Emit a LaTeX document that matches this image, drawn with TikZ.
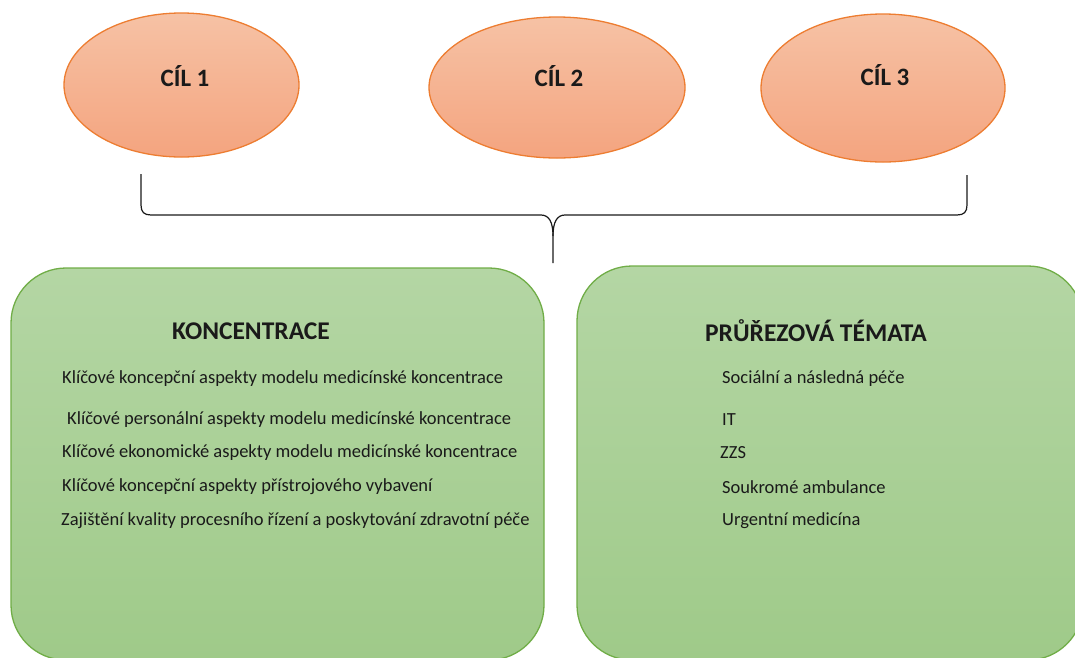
\documentclass[tikz,border=0pt]{standalone}
\usepackage{fontspec}
\setmainfont{Carlito}
\usetikzlibrary{shapes.geometric}
\definecolor{ellTop}{HTML}{F6C2A5}
\definecolor{ellBot}{HTML}{F4A47F}
\definecolor{ellLine}{HTML}{ED7D31}
\definecolor{boxTop}{HTML}{B4D6A4}
\definecolor{boxBot}{HTML}{9FCA89}
\definecolor{boxLine}{HTML}{70AD47}
\definecolor{ink}{HTML}{1A1A1A}
\begin{document}
\begin{tikzpicture}[x=1pt,y=-1pt,
  goal/.style={ellipse, draw=ellLine, line width=1.3pt, top color=ellTop, bottom color=ellBot, inner sep=0pt},
  goaltext/.style={font=\fontsize{25}{30}\selectfont\bfseries, text=ink, inner sep=0pt},
  panel/.style={rectangle, rounded corners=55pt, draw=boxLine, line width=1.3pt,
    top color=boxTop, bottom color=boxBot, inner sep=0pt},
  ptitle/.style={font=\fontsize{25.5}{30}\selectfont\bfseries, text=ink, inner sep=0pt},
  item/.style={anchor=west, font=\fontsize{18.5}{22}\selectfont, text=ink, inner sep=0pt},
  brace/.style={draw=ink, line width=1.2pt}
]
\useasboundingbox (0,0) rectangle (1075,657);
\clip (0,0) rectangle (1075,657);

% goals
\node[goal, minimum width=235pt, minimum height=144pt] (c1) at (181.5,85) {};
\node[goal, minimum width=256pt, minimum height=141pt] (c2) at (557,87.5) {};
\node[goal, minimum width=244pt, minimum height=148pt] (c3) at (883,88) {};
\node[goaltext] (c1t) at (185,76) {CÍL 1};
\node[goaltext] (c2t) at (559,76) {CÍL 2};
\node[goaltext] (c3t) at (885,75) {CÍL 3};

% brace
\coordinate (bl) at (141,174);
\coordinate (br) at (967,175);
\coordinate (bt) at (553,263);
\draw[brace] (bl) -- (141,205) .. controls (141,212) and (144,215) .. (151,215)
  -- (541,215) .. controls (549,215) and (553,222) .. (553,236) -- (bt);
\draw[brace] (553,236) .. controls (553,222) and (557,215) .. (565,215)
  -- (957,215) .. controls (964,215) and (967,212) .. (967,205) -- (br);

% panels
\node[panel, minimum width=533pt, minimum height=392pt] (pk) at (277.5,464) {};
\node[panel, minimum width=506pt, minimum height=394pt] (pp) at (830,463) {};

% left panel text
\node[ptitle] (kt) at (251,331) {KONCENTRACE};
\node[item] (k1) at (62,379) {Klíčové koncepční aspekty modelu medicínské koncentrace};
\node[item] (k2) at (67,420) {Klíčové personální aspekty modelu medicínské koncentrace};
\node[item] (k3) at (62,453) {Klíčové ekonomické aspekty modelu medicínské koncentrace};
\node[item] (k4) at (62,487) {Klíčové koncepční aspekty přístrojového vybavení};
\node[item] (k5) at (61,521) {Zajištění kvality procesního řízení a poskytování zdravotní péče};

% right panel text
\node[ptitle] (pt) at (816,331) {PRŮŘEZOVÁ TÉMATA};
\node[item] (p1) at (722,379) {Sociální a následná péče};
\node[item] (p2) at (722,420) {IT};
\node[item] (p3) at (720,453) {ZZS};
\node[item] (p4) at (722,487) {Soukromé ambulance};
\node[item] (p5) at (722,521) {Urgentní medicína};
\end{tikzpicture}
\end{document}
